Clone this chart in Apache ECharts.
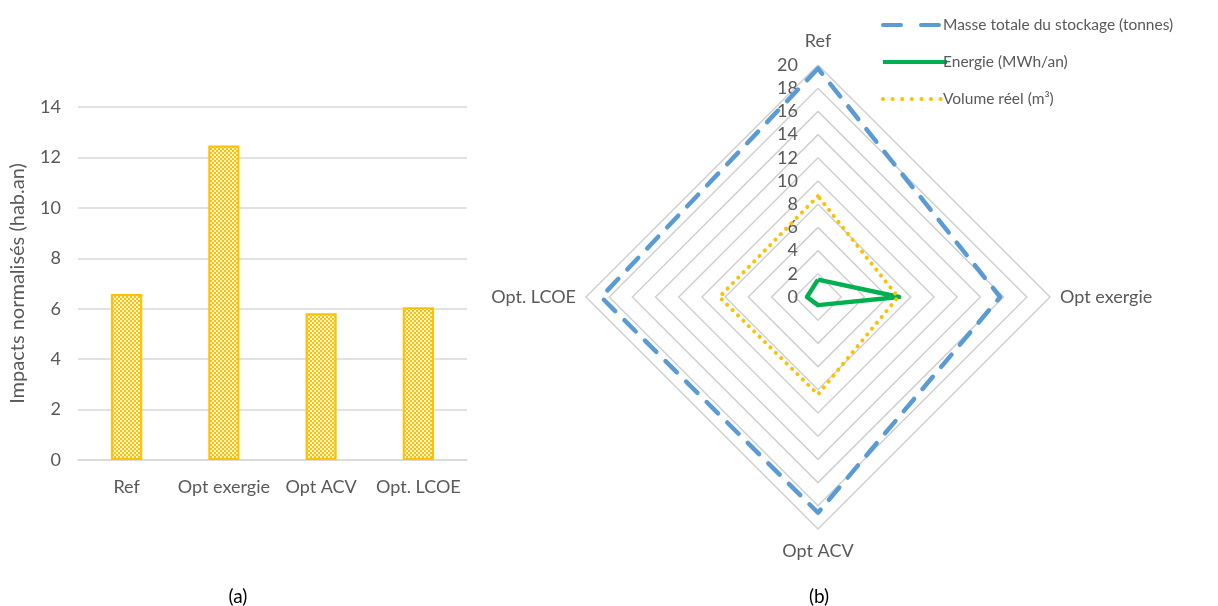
<!DOCTYPE html>
<html><head><meta charset="utf-8">
<script src="https://cdn.jsdelivr.net/npm/echarts@6/dist/echarts.min.js"></script>
<style>html,body{margin:0;padding:0;background:#fff}#c{width:1218px;height:606px}</style>
</head><body><div id="c"></div>
<script>
const barCategories = ['Ref', 'Opt exergie', 'Opt ACV', 'Opt. LCOE'];
const barValues = [6.58, 12.47, 5.82, 6.06];
const barTicks = [0, 14, 2];
const radarIndicators = ['Ref', 'Opt. LCOE', 'Opt ACV', 'Opt exergie'];
const masseValues = [19.7, 18.7, 18.6, 15.7];
const energieValues = [1.5, 0.95, 0.7, 7.0];
const volumeValues = [8.7, 8.5, 8.4, 6.9];
const radarTicks = [0, 20, 2];
const seriesNames = ['Masse totale du stockage (tonnes)', 'Energie (MWh/an)', 'Volume réel (m³)'];

const FONT = 'Lato';
const GRAY = '#595959';
const cv = document.createElement('canvas');
cv.width = 4; cv.height = 4;
const cx = cv.getContext('2d');
cx.fillStyle = '#FFC000'; cx.fillRect(0,0,4,4);
cx.fillStyle = '#FFF6DA'; cx.fillRect(0,0,2,2); cx.fillRect(2,2,2,2);

const styles = [
  {color: '#5B9BD5', width: 4.5, type: [16, 13], cap: 'round'},
  {color: '#00B050', width: 4.5, type: 'solid'},
  {color: '#FFC000', width: 4, type: [0.1, 7.5], cap: 'round'}
];
const legendStyles = [
  {color: '#5B9BD5', width: 4, type: [18, 20], cap: 'round'},
  {color: '#00B050', width: 4, type: 'solid', cap: 'butt'},
  {color: '#FFC000', width: 4, type: [0.1, 9.5], cap: 'round'}
];
const valuesList = [masseValues, energieValues, volumeValues];

const legendSeries = seriesNames.map((n, i) => ({
  type: 'line', name: n, xAxisIndex: 1, yAxisIndex: 1, data: [], symbol: 'none', showSymbol: false,
  lineStyle: styles[i], itemStyle: {color: styles[i].color}
}));
const radarSeries = seriesNames.map((n, i) => ({
  type: 'radar', name: n, symbol: 'none',
  data: [{value: valuesList[i], name: n}],
  lineStyle: styles[i], itemStyle: {color: styles[i].color}
}));

const chart = echarts.init(document.getElementById('c'), null, {renderer:'canvas'});
chart.setOption({
  animation: false,
  textStyle: {fontFamily: FONT},
  title: [
    {text: '(a)', left: 233, top: 582, textAlign: 'center', textStyle: {fontFamily: FONT, fontSize: 19, fontWeight: 'normal', color: '#000'}},
    {text: '(b)', left: 814, top: 582, textAlign: 'center', textStyle: {fontFamily: FONT, fontSize: 19, fontWeight: 'normal', color: '#000'}}
  ],
  legend: {
    orient: 'vertical', left: 876, top: 12, itemWidth: 64, itemHeight: 14, itemGap: 21,
    textStyle: {fontFamily: FONT, fontSize: 15.5, color: GRAY, padding: [0,0,0,-9]},
    itemStyle: {opacity: 0},
    data: seriesNames.map((n, i) => ({name: n, itemStyle: {opacity: 0}, lineStyle: legendStyles[i]}))
  },
  grid: [
    {left: 78, right: 751, top: 107, bottom: 146},
    {left: 818, width: 1, top: 65, height: 232}
  ],
  xAxis: [
    {type: 'category', gridIndex: 0, data: barCategories,
     axisLine: {lineStyle: {color: '#d9d9d9', width: 1.5}}, axisTick: {show: false},
     axisLabel: {fontFamily: FONT, fontSize: 18, color: GRAY, margin: 18, interval: 0}},
    {type: 'value', gridIndex: 1, show: false, min: 0, max: 1}
  ],
  yAxis: [
    {type: 'value', gridIndex: 0, min: barTicks[0], max: barTicks[1], interval: barTicks[2],
     name: 'Impacts normalisés (hab.an)', nameLocation: 'middle', nameGap: 50,
     nameTextStyle: {fontFamily: FONT, fontSize: 20, color: GRAY},
     axisLine: {show: false}, axisTick: {show: false},
     axisLabel: {fontFamily: FONT, fontSize: 18, color: GRAY, margin: 17},
     splitLine: {lineStyle: {color: '#d9d9d9', width: 1.5}}},
    {type: 'value', gridIndex: 1, min: radarTicks[0], max: radarTicks[1], interval: radarTicks[2],
     axisLine: {show: false}, axisTick: {show: false}, splitLine: {show: false},
     axisLabel: {fontFamily: FONT, fontSize: 18, color: GRAY, margin: 20}}
  ],
  radar: {
    center: [818, 297], radius: 232, shape: 'polygon', splitNumber: 10,
    startAngle: 90,
    indicator: radarIndicators.map(n => ({name: n, min: radarTicks[0], max: radarTicks[1]})),
    axisName: {fontFamily: FONT, fontSize: 18, color: GRAY, padding: [3, 0, 5, 0]},
    nameGap: 10,
    axisLine: {show: false}, axisTick: {show: false}, axisLabel: {show: false},
    splitArea: {show: false},
    splitLine: {lineStyle: {color: '#d0d0d0', width: 1.5}}
  },
  series: [
    {type: 'bar', xAxisIndex: 0, yAxisIndex: 0, data: barValues, barWidth: '32%',
     itemStyle: {color: {image: cv, repeat: 'repeat'}, borderColor: '#FFC000', borderWidth: 2}}
  ].concat(legendSeries, radarSeries)
});
</script></body></html>
